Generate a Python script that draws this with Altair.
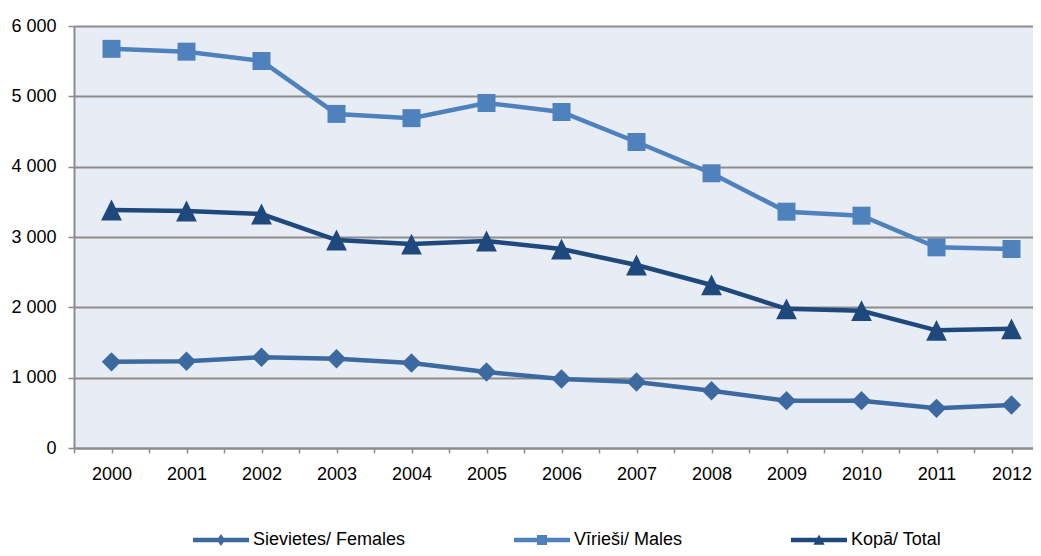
import altair as alt
import pandas as pd

years = list(range(2000, 2013))
series_names = ["Sievietes/ Females", "Vīrieši/ Males", "Kopā/ Total"]
females = [1225, 1233, 1290, 1270, 1209, 1081, 981, 938, 815, 673, 673, 564, 611]
males = [5675, 5635, 5502, 4750, 4690, 4905, 4777, 4351, 3906, 3360, 3303, 2853, 2829]
total = [3384, 3370, 3327, 2957, 2900, 2943, 2829, 2602, 2318, 1979, 1952, 1673, 1695]
y_ticks = [0, 1000, 2000, 3000, 4000, 5000, 6000]

colors = ["#3D69A1", "#4F81BD", "#1F497D"]
marker_paths = [
    "M0,-0.97L0.97,0L0,0.97L-0.97,0Z",
    "M-0.9,-0.9H0.9V0.9H-0.9Z",
    "M0,-1.04L1.04,1.04L-1.04,1.04Z",
]
legend_paths = [
    "M-1,-0.08H1V0.08H-1Z M0,-0.21L0.15,0L0,0.21L-0.15,0Z",
    "M-1,-0.08H1V0.08H-1Z M-0.18,-0.18H0.18V0.18H-0.18Z",
    "M-1,-0.08H1V0.08H-1Z M0,-0.2L0.2,0.17L-0.2,0.17Z",
]

rows = []
for name, vals in zip(series_names, [females, males, total]):
    for yr, v in zip(years, vals):
        rows.append({"year": yr, "value": v, "series": name})
df = pd.DataFrame(rows)

FONT = "Liberation Sans, Arial, sans-serif"
FS = 18
GRAY = "#8C8C8C"
W = 959
H = 422

x_enc = alt.X(
    "year:Q",
    scale=alt.Scale(domain=[1999.5, 1999.5 + W / 75.0], nice=False, zero=False),
    axis=alt.Axis(
        values=[1999.5 + 0.5 * i for i in range(26)],
        labelExpr="datum.value % 1 == 0 ? format(datum.value, 'd') : ''",
        grid=False,
        domainColor=GRAY,
        domainWidth=2,
        tickColor=GRAY,
        tickWidth=1.5,
        tickSize=5,
        labelFont=FONT,
        labelFontSize=FS,
        labelColor="#000000",
        labelPadding=12,
        labelOverlap=False,
        labelFlush=False,
        title=None,
    ),
)
y_enc = alt.Y(
    "value:Q",
    scale=alt.Scale(domain=[0, 6000], nice=False),
    axis=alt.Axis(
        values=y_ticks,
        labelExpr="replace(format(datum.value, ',d'), ',', ' ')",
        grid=True,
        gridColor=GRAY,
        gridWidth=2,
        domainColor=GRAY,
        domainWidth=2,
        tickColor=GRAY,
        tickWidth=1.5,
        tickSize=6,
        labelFont=FONT,
        labelFontSize=FS,
        labelColor="#000000",
        labelPadding=12,
        title=None,
    ),
)

color_scale = alt.Scale(domain=series_names, range=colors)

base = alt.Chart(df)

lines = base.mark_line(strokeWidth=4.5).encode(
    x=x_enc,
    y=y_enc,
    color=alt.Color("series:N", scale=color_scale, legend=None),
)

points = base.mark_point(filled=True, opacity=1, size=400, strokeWidth=0).encode(
    x=x_enc,
    y=y_enc,
    color=alt.Color("series:N", scale=color_scale, legend=None),
    shape=alt.Shape("series:N", scale=alt.Scale(domain=series_names, range=marker_paths), legend=None),
)

leg = alt.Legend(
    orient="none",
    legendX=119,
    legendY=486,
    direction="horizontal",
    title=None,
    symbolSize=3136,
    symbolStrokeWidth=0,
    symbolOpacity=1,
    labelFont=FONT,
    labelFontSize=FS,
    labelColor="#000000",
    labelOffset=4,
    labelLimit=400,
    columnPadding=108,
    padding=0,
)

legend_layer = base.mark_point(filled=True, opacity=0).encode(
    x=x_enc,
    y=y_enc,
    color=alt.Color("series:N", scale=color_scale, legend=leg),
    shape=alt.Shape("series:N", scale=alt.Scale(domain=series_names, range=legend_paths), legend=leg),
)

chart = (
    alt.layer(lines, points, legend_layer)
    .resolve_scale(color="independent", shape="independent")
    .properties(
        width=W,
        height=H,
        padding={"left": 66, "top": 18, "right": 0, "bottom": 100},
        autosize=alt.AutoSizeParams(type="none"),
        background="#FFFFFF",
    )
    .configure_view(fill="#E8EDF5", strokeOpacity=0)
)

chart.save("out.html", embed_options={"renderer": "svg", "actions": False})
